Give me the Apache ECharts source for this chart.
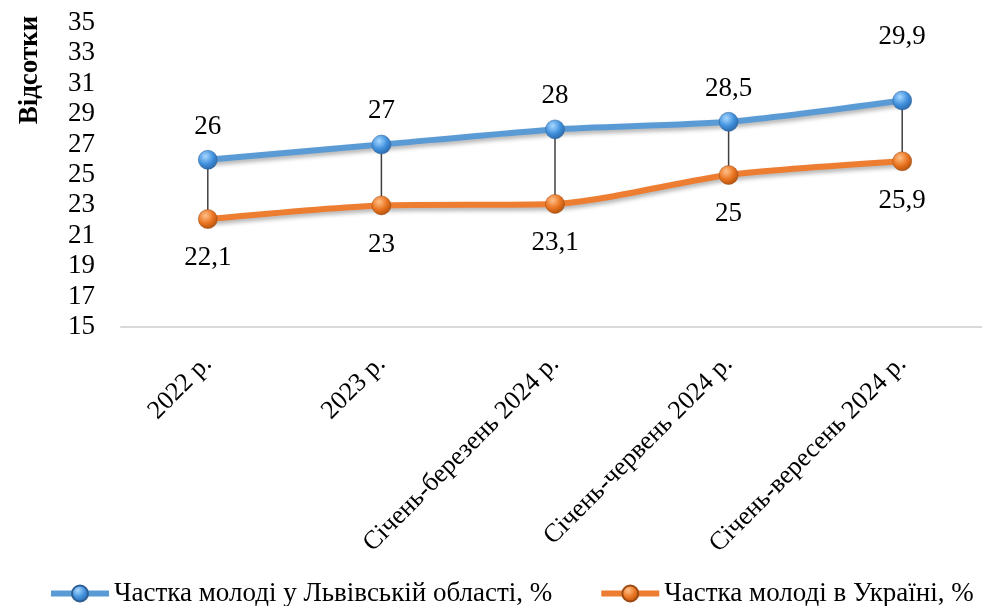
<!DOCTYPE html>
<html>
<head>
<meta charset="utf-8">
<script src="https://cdn.jsdelivr.net/npm/echarts@6/dist/echarts.min.js"></script>
<style>
  html, body { margin: 0; padding: 0; background: #fff; }
  #chart { width: 982px; height: 606px; }
</style>
</head>
<body>
<div id="chart"></div>
<script>
// дані
var categories = ['2022 р.', '2023 р.', 'Січень-березень 2024 р.', 'Січень-червень 2024 р.', 'Січень-вересень 2024 р.'];
var lvivShare = [26, 27, 28, 28.5, 29.9];
var ukraineShare = [22.1, 23, 23.1, 25, 25.9];
var seriesNames = ['Частка молоді у Львівській області, %', 'Частка молоді в Україні, %'];

var font = '"Liberation Serif", "Times New Roman", serif';

function fmt(v) {
    return String(v).replace('.', ',');
}

function ball(light, mid, dark) {
    return {
        type: 'radial', x: 0.38, y: 0.32, r: 0.75,
        colorStops: [
            { offset: 0, color: light },
            { offset: 0.55, color: mid },
            { offset: 1, color: dark }
        ]
    };
}

var myChart = echarts.init(document.getElementById('chart'));

// підписи для синьої лінії, остання точка трохи вище
var lvivData = lvivShare.map(function (v, i) {
    if (i === lvivShare.length - 1) {
        return { value: v, label: { distance: 40 } };
    }
    return v;
});

myChart.setOption({
    animation: false,
    grid: {
        left: 121,
        right: -7,
        top: 23,
        bottom: 279,
        outerBoundsMode: 'none'
    },
    legend: {
        bottom: -6,
        left: 43,
        width: 960,
        padding: [5, 0, 5, 5],
        itemWidth: 58,
        itemHeight: 20,
        itemGap: 46,
        lineStyle: { width: 6 },
        textStyle: { fontFamily: font, fontSize: 27, color: '#000' },
        data: seriesNames
    },
    graphic: [{
        type: 'text',
        x: 30,
        y: 70,
        rotation: Math.PI / 2,
        style: {
            text: 'Відсотки',
            fontFamily: font,
            fontSize: 27,
            fontWeight: 'bold',
            fill: '#000',
            align: 'center',
            verticalAlign: 'middle'
        }
    }],
    xAxis: {
        type: 'category',
        data: categories,
        boundaryGap: true,
        axisLine: { lineStyle: { color: '#d9d9d9', width: 2 } },
        axisTick: { show: false },
        axisLabel: {
            interval: 0,
            rotate: 45,
            margin: 33,
            fontFamily: font,
            fontSize: 26,
            color: '#000'
        }
    },
    yAxis: {
        type: 'value',
        min: 15,
        max: 35,
        interval: 2,
        axisLine: { show: false },
        axisTick: { show: false },
        splitLine: { show: false },
        axisLabel: {
            margin: 26,
            fontFamily: font,
            fontSize: 27,
            color: '#000'
        }
    },
    series: [
        {
            // вертикальні лінії між значеннями
            type: 'custom',
            silent: true,
            z: 1,
            data: lvivShare.map(function (v, i) { return [i, v, ukraineShare[i]]; }),
            renderItem: function (params, api) {
                var top = api.coord([api.value(0), api.value(1)]);
                var bottom = api.coord([api.value(0), api.value(2)]);
                return {
                    type: 'line',
                    shape: { x1: top[0], y1: top[1], x2: bottom[0], y2: bottom[1] },
                    style: { stroke: '#404040', lineWidth: 1.5 }
                };
            }
        },
        {
            name: seriesNames[0],
            type: 'line',
            z: 3,
            data: lvivData,
            smooth: 0.25,
            symbol: 'circle',
            symbolSize: 19,
            lineStyle: {
                color: '#5b9bd5',
                width: 6,
                shadowColor: 'rgba(0,0,0,0.3)',
                shadowBlur: 4,
                shadowOffsetY: 3
            },
            itemStyle: {
                color: ball('#a8d8ff', '#3f8fdc', '#2a62a0'),
                borderColor: '#2d5f94',
                borderWidth: 0.5
            },
            label: {
                show: true,
                position: 'top',
                distance: 10,
                fontFamily: font,
                fontSize: 27,
                color: '#000',
                formatter: function (p) { return fmt(p.value); }
            }
        },
        {
            name: seriesNames[1],
            type: 'line',
            z: 3,
            data: ukraineShare,
            smooth: 0.25,
            symbol: 'circle',
            symbolSize: 19,
            lineStyle: {
                color: '#ed7d31',
                width: 6,
                shadowColor: 'rgba(0,0,0,0.3)',
                shadowBlur: 4,
                shadowOffsetY: 3
            },
            itemStyle: {
                color: ball('#ffc08a', '#e9731f', '#a94c0c'),
                borderColor: '#9a4a12',
                borderWidth: 0.5
            },
            label: {
                show: true,
                position: 'bottom',
                distance: 16,
                fontFamily: font,
                fontSize: 27,
                color: '#000',
                formatter: function (p) { return fmt(p.value); }
            }
        }
    ]
});

window.addEventListener('resize', function () {
    myChart.resize();
});
</script>
</body>
</html>
